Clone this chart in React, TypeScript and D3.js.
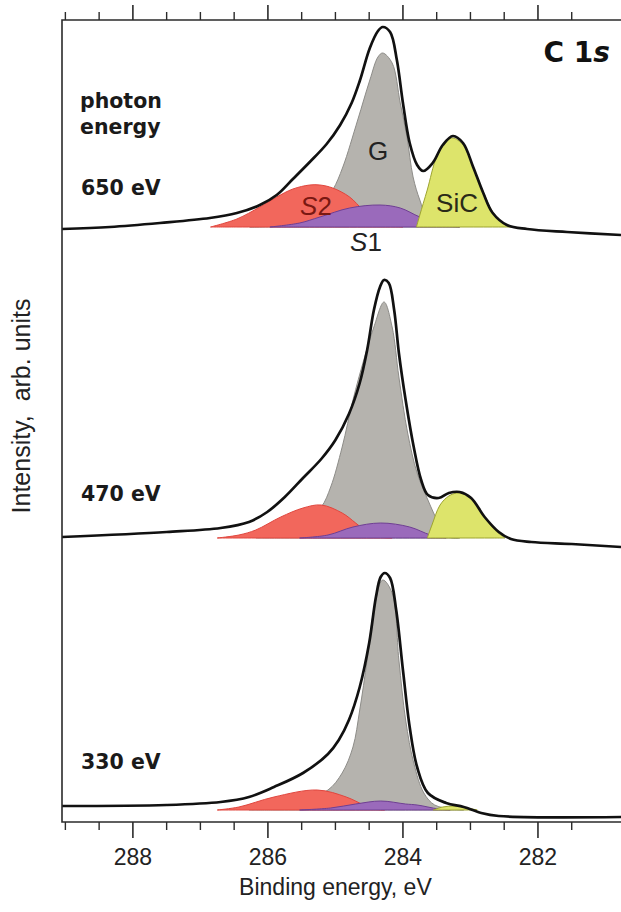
import React from 'react';
import * as d3 from 'd3';

// ---------- axis ----------
const majorTicks = [288, 286, 284, 282];
const minorTicks = [289, 288.5, 287.5, 287, 286.5, 285.5, 285, 284.5, 283.5, 283, 282.5, 281.5];
const energyDomain = [289.05, 280.77];

// ---------- panels ----------
const photonEnergies = ['650 eV', '470 eV', '330 eV'];
const panelOffsets = [595, 284, 12]; // vertical stacking offsets, arb. units

// 650 eV  [binding energy eV, intensity arb.u.]
const env650 = [
  [289.05, -2], [288.34, 0], [287.6, 4], [286.86, 9], [286.46, 14], [286.12, 22], [285.87, 32],
  [285.63, 48], [285.38, 65], [285.13, 83], [284.93, 102], [284.76, 124], [284.64, 146],
  [284.49, 179], [284.37, 196], [284.3, 200], [284.19, 195], [284.09, 167], [284.0, 124],
  [283.9, 84], [283.79, 62], [283.7, 56], [283.56, 64], [283.41, 82], [283.26, 91], [283.11, 84],
  [282.96, 60], [282.81, 34], [282.67, 14], [282.46, 2], [282.16, -2], [281.57, -5], [280.77, -8],
];
const g650 = [
  [286.27, 0], [285.67, 3], [285.3, 13], [285.04, 37], [284.89, 60], [284.67, 107], [284.49, 147],
  [284.37, 170], [284.3, 174], [284.16, 164], [284.04, 124], [283.94, 90], [283.85, 50],
  [283.75, 27], [283.64, 10], [283.45, 2], [283.16, 0],
];
const s2_650 = [
  [286.85, 0], [286.46, 8], [286.12, 20], [285.87, 30], [285.63, 38], [285.38, 42], [285.23, 42],
  [285.04, 39], [284.79, 30], [284.59, 17], [284.39, 7], [284.19, 2], [284.0, 0],
];
const s1_650 = [
  [285.97, 0], [285.53, 4], [285.23, 10], [284.79, 19], [284.34, 22], [284.04, 19], [283.75, 10],
  [283.45, 3], [283.16, 0],
];
const sic650 = [
  [283.8, 0], [283.75, 12], [283.64, 37], [283.5, 70], [283.35, 86], [283.26, 89], [283.11, 82],
  [282.96, 60], [282.81, 35], [282.67, 15], [282.49, 3], [282.34, 0],
];

// 470 eV
const env470 = [
  [289.05, 1], [287.5, 6], [286.7, 10], [286.28, 16], [286.01, 26], [285.75, 41], [285.48, 60],
  [285.21, 79], [285.0, 98], [284.8, 124], [284.64, 155], [284.53, 188], [284.43, 228],
  [284.34, 251], [284.28, 258], [284.21, 255], [284.13, 228], [284.06, 185], [283.96, 138],
  [283.84, 91], [283.73, 58], [283.63, 43], [283.47, 40], [283.32, 45], [283.16, 46], [282.99, 40],
  [282.79, 21], [282.58, 6], [282.4, -1], [282.1, -4], [281.5, -6], [280.77, -9],
];
const g470 = [
  [286.18, 2], [285.75, 8], [285.48, 15], [285.21, 31], [285.07, 51], [284.9, 91], [284.74, 138],
  [284.58, 178], [284.43, 211], [284.28, 236], [284.16, 211], [284.06, 161], [283.93, 105],
  [283.79, 65], [283.63, 38], [283.47, 15], [283.32, 1], [283.16, 0],
];
const s2_470 = [
  [286.75, 0], [286.43, 3], [286.18, 8], [285.81, 21], [285.48, 30], [285.21, 33], [284.9, 25],
  [284.7, 15], [284.53, 6], [284.33, 1], [284.16, 0],
];
const s1_470 = [
  [285.53, 0], [285.11, 3], [284.74, 11], [284.33, 15], [283.9, 11], [283.59, 3], [283.36, 0],
];
const sic470 = [
  [283.64, 0], [283.57, 13], [283.45, 33], [283.32, 42], [283.2, 45], [283.08, 44], [282.93, 35],
  [282.79, 21], [282.64, 8], [282.49, 0],
];

// 330 eV
const env330 = [
  [289.05, 4], [287.5, 5], [286.7, 8], [286.28, 13], [285.91, 23], [285.48, 37], [285.11, 56],
  [284.95, 70], [284.8, 90], [284.64, 123], [284.5, 167], [284.4, 213], [284.33, 233], [284.27, 237],
  [284.19, 232], [284.1, 200], [284.0, 140], [283.9, 83], [283.79, 43], [283.63, 17], [283.36, 7],
  [283.1, 3], [282.84, -3], [282.58, -6], [280.77, -7],
];
const g330 = [
  [286.28, 1], [285.91, 4], [285.48, 10], [285.11, 20], [284.9, 37], [284.74, 63], [284.64, 100],
  [284.53, 150], [284.43, 200], [284.3, 230], [284.16, 217], [284.06, 150], [283.96, 90],
  [283.84, 47], [283.69, 17], [283.53, 5], [283.26, 1], [283.1, 0],
];
const s2_330 = [
  [286.75, 0], [286.43, 3], [285.91, 13], [285.27, 20], [284.84, 13], [284.58, 5], [284.43, 1], [284.27, 0],
];
const s1_330 = [
  [285.53, 0], [285.07, 2], [284.7, 6], [284.33, 9], [283.96, 6], [283.79, 5], [283.47, 1], [283.3, 0],
];
const sic330 = [
  [283.55, 0], [283.41, 3], [283.23, 4], [283.05, 2], [282.9, 0],
];

const envelopes = [env650, env470, env330];
const gPeaks = [g650, g470, g330];
const s2Peaks = [s2_650, s2_470, s2_330];
const s1Peaks = [s1_650, s1_470, s1_330];
const sicPeaks = [sic650, sic470, sic330];

const W = 621;
const H = 912;
const left = 62;
const top = 20;
const bottom = 822;
const right = 623;

const x = d3.scaleLinear().domain(energyDomain).range([left, 621]);
const y = d3.scaleLinear().domain([0, 802]).range([bottom, top]);

const AR = 'Liberation Sans, Arial, sans-serif';
const DJ = 'DejaVu Sans, sans-serif';
const curve = d3.curveCatmullRom.alpha(0.5);

function areaPath(data: number[][], off: number) {
  return d3
    .area<number[]>()
    .x((d) => x(d[0]))
    .y0(() => y(off))
    .y1((d) => y(off + d[1]))
    .curve(curve)(data) as string;
}
function linePath(data: number[][], off: number) {
  return d3
    .line<number[]>()
    .x((d) => x(d[0]))
    .y((d) => y(off + d[1]))
    .curve(curve)(data) as string;
}

export default function App() {
  const axisColor = '#2b2b2b';
  return (
    <svg
      width={W}
      height={H}
      viewBox={`0 0 ${W} ${H}`}
      style={{ position: 'absolute', left: 0, top: 0, background: '#ffffff' }}
    >
      <defs>
        <clipPath id="plotClip">
          <rect x={left} y={top} width={right - left} height={bottom - top} />
        </clipPath>
      </defs>
      <rect x={0} y={0} width={W} height={H} fill="#ffffff" />

      <g clipPath="url(#plotClip)">
        {panelOffsets.map((off, i) => (
          <g key={i}>
            <path d={areaPath(gPeaks[i], off)} fill="#b5b3ae" stroke="#8d8c88" strokeWidth={1} />
            <path d={areaPath(s2Peaks[i], off)} fill="#f2675c" stroke="#e0463e" strokeWidth={1} />
            <path d={areaPath(s1Peaks[i], off)} fill="#9a6abb" stroke="#6f3f93" strokeWidth={1} />
            <path d={areaPath(sicPeaks[i], off)} fill="#dde46b" stroke="#9da431" strokeWidth={1} />
            <path d={linePath(envelopes[i], off)} fill="none" stroke="#111" strokeWidth={2.7} />
          </g>
        ))}
      </g>

      {/* frame */}
      <path
        d={`M${right},${top}H${left}V${bottom}H${right}`}
        fill="none"
        stroke={axisColor}
        strokeWidth={1.6}
      />
      {/* ticks */}
      {majorTicks.map((t) => (
        <g key={'M' + t}>
          <line x1={x(t)} x2={x(t)} y1={top} y2={top - 15} stroke={axisColor} strokeWidth={1.6} />
          <line x1={x(t)} x2={x(t)} y1={bottom} y2={bottom + 16} stroke={axisColor} strokeWidth={1.6} />
          <text x={x(t)} y={865} textAnchor="middle" fontFamily={AR} fontSize={23} fill="#222">
            {t}
          </text>
        </g>
      ))}
      {minorTicks.map((t) => (
        <g key={'m' + t}>
          <line x1={x(t)} x2={x(t)} y1={top} y2={top - 8} stroke={axisColor} strokeWidth={1.4} />
          <line x1={x(t)} x2={x(t)} y1={bottom} y2={bottom + 8} stroke={axisColor} strokeWidth={1.4} />
        </g>
      ))}

      {/* axis titles */}
      <text x={x(285)} y={895} textAnchor="middle" fontFamily={AR} fontSize={23} fill="#222">
        Binding energy, eV
      </text>
      <text
        transform="translate(30,406) rotate(-90)"
        textAnchor="middle"
        fontFamily={AR}
        fontSize={25}
        fill="#222"
        style={{ whiteSpace: 'pre' }}
      >
        {'Intensity,  arb. units'}
      </text>

      {/* annotations */}
      <text x={610} y={62} textAnchor="end" fontFamily={DJ} fontSize={28} fontWeight="bold" fill="#111">
        C 1<tspan fontStyle="italic">s</tspan>
      </text>
      <text x={80} y={108} fontFamily={DJ} fontSize={20.5} fontWeight="bold" fill="#1a1a1a">
        photon
      </text>
      <text x={80} y={134} fontFamily={DJ} fontSize={20.5} fontWeight="bold" fill="#1a1a1a">
        energy
      </text>
      {[195, 501, 769].map((by, i) => (
        <text key={i} x={81} y={by} fontFamily={DJ} fontSize={20.5} fontWeight="bold" fill="#1a1a1a">
          {photonEnergies[i]}
        </text>
      ))}
      <text x={378} y={160} textAnchor="middle" fontFamily={AR} fontSize={26} fill="#222">
        G
      </text>
      <text x={316} y={215} textAnchor="middle" fontFamily={AR} fontSize={26} fill="#7a1812">
        <tspan fontStyle="italic">S</tspan>2
      </text>
      <text x={457} y={212} textAnchor="middle" fontFamily={AR} fontSize={26} fill="#2a2a18">
        SiC
      </text>
      <text x={366} y={251} textAnchor="middle" fontFamily={AR} fontSize={26} fill="#222">
        <tspan fontStyle="italic">S</tspan>1
      </text>
    </svg>
  );
}
